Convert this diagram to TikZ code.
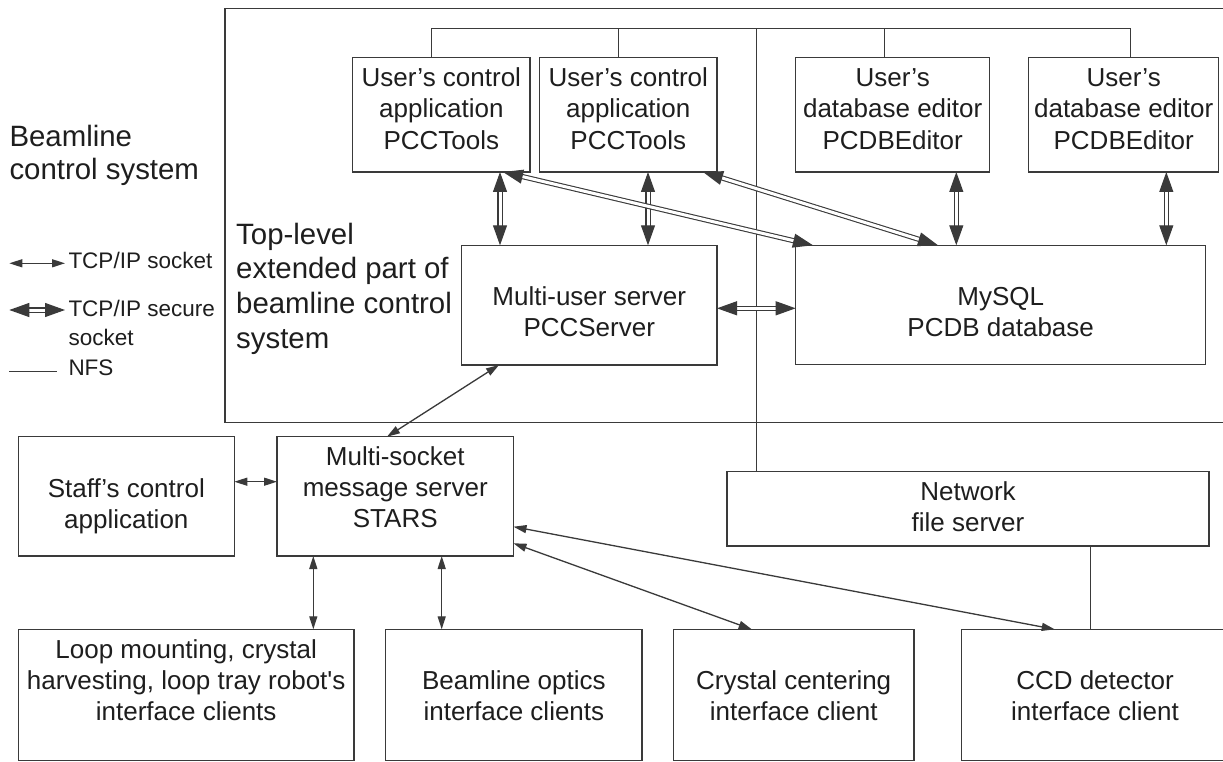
\documentclass[tikz,border=0pt]{standalone}
\usepackage{fontspec}
\setmainfont{Liberation Sans}
\usetikzlibrary{arrows.meta,fit}
\definecolor{ln}{HTML}{3A3A3A}
\definecolor{tx}{HTML}{1E1E1E}
\newcommand\mlc[1]{\begin{tabular}[t]{@{}c@{}}#1\end{tabular}}
\newcommand\mll[1]{\begin{tabular}[t]{@{}l@{}}#1\end{tabular}}
\begin{document}
\begin{tikzpicture}[x=1pt,y=-1pt,
  bx/.style={draw=ln, line width=1.4pt, inner sep=0pt, outer sep=0pt, rectangle},
  bt/.style={text=tx, inner sep=0pt, anchor=base, font=\fontsize{26}{31.3}\selectfont},
  lbA/.style={text=tx, inner sep=0pt, anchor=base west, font=\fontsize{29.4}{33.3}\selectfont},
  lbB/.style={text=tx, inner sep=0pt, anchor=base west, font=\fontsize{29.4}{34.7}\selectfont},
  lg/.style={text=tx, inner sep=0pt, anchor=base west, font=\fontsize{22.5}{28.3}\selectfont},
  sa/.style={draw=ln, line width=1.3pt, {Triangle[length=13pt,width=8pt]}-{Triangle[length=13pt,width=8pt]}},
  da/.style={draw=ln, line width=1.1pt, double=white, double distance=3pt, {Triangle[length=20pt,width=14pt]}-{Triangle[length=20pt,width=14pt]}},
  nf/.style={draw=ln, line width=1.1pt}]
\useasboundingbox (0,0) rectangle (1223,762);
\fill[white] (0,0) rectangle (1223,762);

% outer region
\node[bx, fit={(225,8.3) (1228,422.7)}] (outer) {};

% boxes
\node[bx, fit={(352.7,57.7) (530,172)}] (b1) {};
\node[bx, fit={(539.5,57.7) (717,172)}] (b2) {};
\node[bx, fit={(795.7,57.7) (989.7,172)}] (b3) {};
\node[bx, fit={(1028.7,57.7) (1218.7,172)}] (b4) {};
\node[bx, fit={(461.5,245.3) (717,365)}] (pccs) {};
\node[bx, fit={(795.7,245.3) (1205.7,364.5)}] (mysql) {};
\node[bx, fit={(18.3,436.7) (234.3,556)}] (staff) {};
\node[bx, fit={(277,436.7) (513.5,556)}] (stars) {};
\node[bx, fit={(727,471.7) (1209,546)}] (nfs) {};
\node[bx, fit={(18.3,629.3) (354,760.5)}] (loop) {};
\node[bx, fit={(385.7,629.3) (642,760.5)}] (optics) {};
\node[bx, fit={(673.3,629.3) (914,760.5)}] (cryst) {};
\node[bx, fit={(961.7,629.3) (1230,760.5)}] (ccd) {};

% box texts
\node[bt] (t1) at (441.35,86.5) {\mlc{User’s control\\application\\PCCTools}};
\node[bt] (t2) at (628.25,86.5) {\mlc{User’s control\\application\\PCCTools}};
\node[bt] (t3) at (892.7,86.5) {\mlc{User’s\\database editor\\PCDBEditor}};
\node[bt] (t4) at (1123.7,86.5) {\mlc{User’s\\database editor\\PCDBEditor}};
\node[bt] (tp) at (589.25,305) {\mlc{Multi-user server\\PCCServer}};
\node[bt] (tm) at (1000.7,305) {\mlc{MySQL\\PCDB database}};
\node[bt] (ts) at (126.3,497.3) {\mlc{Staff’s control\\application}};
\node[bt] (tst) at (395.25,465) {\mlc{Multi-socket\\message server\\STARS}};
\node[bt] (tn) at (968,500) {\mlc{Network\\file server}};
\node[bt] (tl) at (186.2,658.3) {\mlc{Loop mounting, crystal\\harvesting, loop tray robot\textquotesingle s\\interface clients}};
\node[bt] (to) at (513.9,689.3) {\mlc{Beamline optics\\interface clients}};
\node[bt] (tc) at (793.7,689.3) {\mlc{Crystal centering\\interface client}};
\node[bt] (tcc) at (1095,689.3) {\mlc{CCD detector\\interface client}};

% side labels
\node[lbA] (bcs) at (9.3,146.7) {\mll{Beamline\\control system}};
\node[lbB] (top) at (236,244.3) {\mll{Top-level\\extended part of\\beamline control\\system}};

% legend
\coordinate (la1) at (9.3,263.3); \coordinate (la2) at (65,263.3);
\draw[sa] (la1) -- (la2);
\coordinate (lb1) at (9.3,310); \coordinate (lb2) at (65,310);
\draw[da] (lb1) -- (lb2);
\coordinate (lc1) at (9.3,371.7); \coordinate (lc2) at (57.3,371.7);
\draw[nf] (lc1) -- (lc2);
\node[lg] (lt1) at (68.3,268.3) {TCP/IP socket};
\node[lg] (lt2) at (68.3,316.7) {\mll{TCP/IP secure\\socket}};
\node[lg] (lt3) at (68.3,375.7) {NFS};

% NFS bus
\coordinate (busL) at (431.7,28.3);
\coordinate (j2) at (618.6,28.3);
\coordinate (jt) at (756.3,28.3);
\coordinate (j3) at (884.7,28.3);
\coordinate (busR) at (1130.3,28.3);
\draw[nf] (busL) -- (busR);
\draw[nf] (busL) -- (busL |- b1.north);
\draw[nf] (j2) -- (j2 |- b2.north);
\draw[nf] (jt) -- (jt |- nfs.north);
\draw[nf] (j3) -- (j3 |- b3.north);
\draw[nf] (busR) -- (busR |- b4.north);
\draw[nf] (1090.7,0 |- nfs.south) -- (1090.7,0 |- ccd.north);

% secure sockets
\draw[da] (500,0 |- b1.south) -- (500,0 |- pccs.north);
\draw[da] (648,0 |- b2.south) -- (648,0 |- pccs.north);
\draw[da] (503,0 |- b1.south) -- (813,0 |- mysql.north);
\draw[da] (703,0 |- b2.south) -- (938,0 |- mysql.north);
\draw[da] (956.3,0 |- b3.south) -- (956.3,0 |- mysql.north);
\draw[da] (1166.3,0 |- b4.south) -- (1166.3,0 |- mysql.north);
\draw[da] (pccs.east |- 0,308.3) -- (mysql.west |- 0,308.3);

% sockets
\draw[sa] (499,0 |- pccs.south) -- (387,0 |- stars.north);
\draw[sa] (staff.east |- 0,481.7) -- (stars.west |- 0,481.7);
\draw[sa] (313.3,0 |- stars.south) -- (313.3,0 |- loop.north);
\draw[sa] (441.7,0 |- stars.south) -- (441.7,0 |- optics.north);
\draw[sa] (stars.east |- 0,543.3) -- (751.7,0 |- cryst.north);
\draw[sa] (stars.east |- 0,526.7) -- (1054.7,0 |- ccd.north);
\end{tikzpicture}
\end{document}
